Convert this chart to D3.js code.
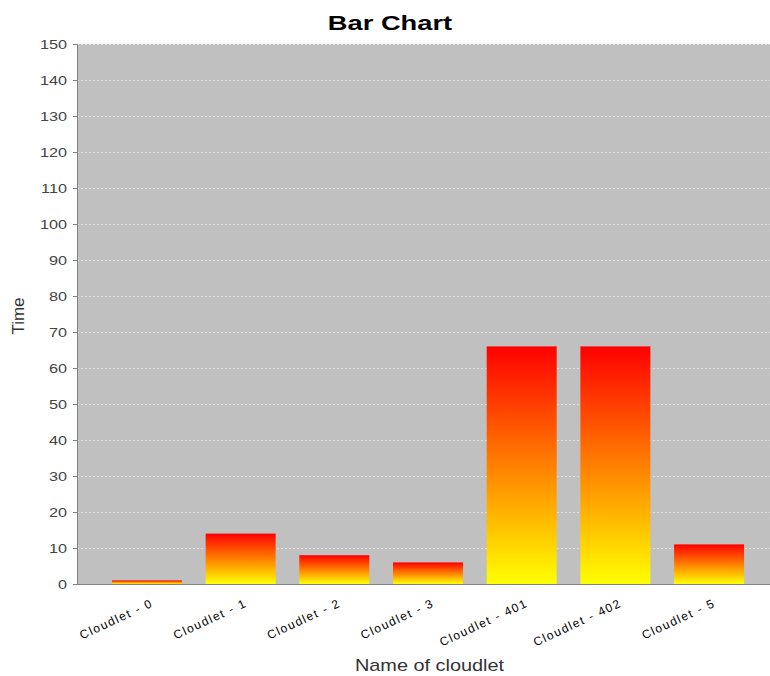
<!DOCTYPE html>
<html>
<head>
<meta charset="utf-8">
<script src="https://cdn.jsdelivr.net/npm/d3@7"></script>
<style>
  html, body { margin: 0; padding: 0; background: #fff; }
  svg { display: block; }
</style>
</head>
<body>
<svg id="chart" width="770" height="676"></svg>
<script>
// Execution time per cloudlet
const categories = ["Cloudlet - 0", "Cloudlet - 1", "Cloudlet - 2", "Cloudlet - 3",
                    "Cloudlet - 401", "Cloudlet - 402", "Cloudlet - 5"];
const times = [1, 14, 8, 6, 66, 66, 11];
const yTicks = [0, 10, 20, 30, 40, 50, 60, 70, 80, 90, 100, 110, 120, 130, 140, 150];

const chartTitle = "Bar Chart";
const xTitle = "Name of cloudlet";
const yTitle = "Time";

const W = 770, H = 676;
const margin = { top: 44, right: 0, bottom: 92, left: 77 };
const plotW = W - margin.left - margin.right;
const plotH = H - margin.top - margin.bottom;
const FONT = "'Liberation Sans', Arial, sans-serif";

const svg = d3.select("#chart");

const defs = svg.append("defs");
const grad = defs.append("linearGradient")
  .attr("id", "barFill")
  .attr("x1", 0).attr("y1", 0).attr("x2", 0).attr("y2", 1);
grad.append("stop").attr("offset", "0%").attr("stop-color", "#ff0000");
grad.append("stop").attr("offset", "100%").attr("stop-color", "#ffff00");

const x = d3.scaleBand()
  .domain(categories)
  .range([0, plotW])
  .paddingInner(0.253)
  .paddingOuter(0.325)
  .align(0.574);

const y = d3.scaleLinear().domain([0, 150]).range([plotH, 0]);

const g = svg.append("g").attr("transform", `translate(${margin.left},${margin.top})`);

// plot background
g.append("rect")
  .attr("width", plotW).attr("height", plotH)
  .attr("fill", "#c0c0c0");

// horizontal dashed gridlines
g.append("g")
  .selectAll("line")
  .data(yTicks.filter(t => t > 0))
  .join("line")
  .attr("x1", 0).attr("x2", plotW)
  .attr("y1", d => y(d) + 0.5).attr("y2", d => y(d) + 0.5)
  .attr("stroke", "#dedede")
  .attr("stroke-width", 1)
  .attr("stroke-dasharray", "2,2");

// bars, each with its own red-to-yellow gradient
g.append("g")
  .selectAll("rect")
  .data(categories)
  .join("rect")
  .attr("x", d => x(d))
  .attr("width", x.bandwidth())
  .attr("y", (d, i) => y(times[i]))
  .attr("height", (d, i) => y(0) - y(times[i]))
  .attr("fill", "url(#barFill)");

// y axis
const yAxis = g.append("g")
  .call(d3.axisLeft(y).tickValues(yTicks).tickSize(4).tickPadding(5));
yAxis.select(".domain").attr("stroke", "#808080");
yAxis.selectAll(".tick line").attr("stroke", "#808080");
yAxis.selectAll(".tick text")
  .attr("x", 0)
  .attr("transform", "translate(-10,0) scale(1.3,1)")
  .attr("fill", "#444")
  .style("font-family", FONT)
  .style("font-size", "12.5px");

// x axis baseline
g.append("line")
  .attr("x1", 0).attr("x2", plotW)
  .attr("y1", plotH + 0.5).attr("y2", plotH + 0.5)
  .attr("stroke", "#808080");

// rotated category labels
g.append("g")
  .selectAll("text")
  .data(categories)
  .join("text")
  .attr("transform", d => `translate(${x(d) + x.bandwidth() / 2 + 7},${plotH + 22}) rotate(-25)`)
  .attr("text-anchor", "end")
  .attr("fill", "#000")
  .style("font-family", FONT)
  .style("font-size", "12px")
  .style("letter-spacing", "1.5px")
  .text(d => d);

// axis titles
svg.append("text")
  .attr("transform", `translate(${margin.left + plotW / 2 + 6},671) scale(1.17,1)`)
  .attr("text-anchor", "middle")
  .attr("fill", "#333")
  .style("font-family", FONT)
  .style("font-size", "17px")
  .text(xTitle);

svg.append("text")
  .attr("transform", `translate(24,${margin.top + plotH / 2 + 2}) rotate(-90)`)
  .attr("text-anchor", "middle")
  .attr("fill", "#333")
  .style("font-family", FONT)
  .style("font-size", "17px")
  .text(yTitle);

// chart title
svg.append("text")
  .attr("transform", "translate(390,30) scale(1.3,1)")
  .attr("text-anchor", "middle")
  .attr("fill", "#000")
  .style("font-family", FONT)
  .style("font-weight", "bold")
  .style("font-size", "21px")
  .text(chartTitle);
</script>
</body>
</html>
